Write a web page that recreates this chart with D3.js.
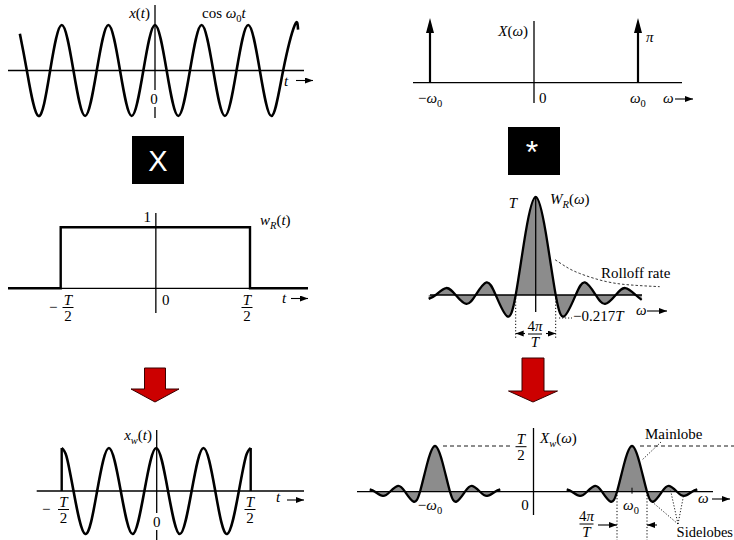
<!DOCTYPE html>
<html>
<head>
<meta charset="utf-8">
<script src="https://cdn.jsdelivr.net/npm/d3@7"></script>
<style>body{margin:0;background:#fff}</style>
</head>
<body>
<script>
// values

// x(t) = cos w0 t, quarter-period samples (t in periods of w0)
const cosT = [-2.9,-2.75,-2.5,-2.25,-2,-1.75,-1.5,-1.25,-1,-0.75,-0.5,-0.25,0,0.25,0.5,0.75,1,1.25,1.5,1.75,2,2.25,2.5,2.75,3,3.07];
const cosV = [0.81,0,-1,0,1,0,-1,0,1,0,-1,0,1,0,-1,0,1,0,-1,0,1,0,-1,0,1,0.9];

// windowed cosine x_w(t), -T/2..T/2
const winT = [-2,-1.9,-1.75,-1.5,-1.25,-1,-0.75,-0.5,-0.25,0,0.25,0.5,0.75,1,1.25,1.5,1.75,1.9,2];
const winV = [1,0.81,0,-1,0,1,0,-1,0,1,0,-1,0,1,0,-1,0,0.81,1];

// rectangular window w_R(t): edges in units of T, height 1
const rectT = [-0.5, 0.5];
const rectH = 1;

// X(w): impulses at -w0 and w0
const impW = [-1, 1];

// W_R(w): zeros and extrema, u in units of 2pi/T, value in units of T
const sincU = [-5.35,-5,-4.48,-4,-3.47,-3,-2.46,-2,-1.43,-1,-0.5,0,0.5,1,1.43,2,2.46,3,3.47,4,4.48,5,5.3];
const sincV = [-0.04,0,0.071,0,-0.091,0,0.128,0,-0.217,0,0.64,1,0.64,0,-0.217,0,0.128,0,-0.091,0,0.071,0,-0.05];

// rolloff envelope (dashed)
const rollU = [0.97,1.5,2.2,3.55,4.9,6.2];
const rollV = [0.36,0.29,0.22,0.136,0.10,0.085];

// X_w(w): lobe centres (units of w0) and lobe shape
const lobeC = [-1, 1];
const lobeU = [-4.35,-4,-3.47,-3,-2.46,-2,-1.43,-1,-0.5,0,0.5,1,1.43,2,2.46,3,3.47,4,4.35];
const lobeV = [0.05,0,-0.091,0,0.128,0,-0.217,0,0.64,1,0.64,0,-0.217,0,0.128,0,-0.091,0,0.05];

// sidelobes the labels point at (offset from +w0 lobe)
const sideU = [1.35, 2.55, 3.42];
const sideV = [-0.225, 0.06, -0.116];

const F = "'Liberation Serif','DejaVu Serif',serif";
const S = "'Liberation Sans','DejaVu Sans',sans-serif";

const svg = d3.select("body").append("svg")
  .attr("width", 734).attr("height", 540);

svg.append("defs").append("marker")
  .attr("id", "ah").attr("markerUnits", "userSpaceOnUse")
  .attr("markerWidth", 9).attr("markerHeight", 7)
  .attr("refX", 8).attr("refY", 3).attr("orient", "auto")
  .append("path").attr("d", "M0,0L8,3L0,6Z").attr("fill", "#000");

function seg(x1, y1, x2, y2, w, dash) {
  return svg.append("line").attr("x1", x1).attr("y1", y1).attr("x2", x2).attr("y2", y2)
    .attr("stroke", "#000").attr("stroke-width", w || 1.3)
    .attr("stroke-dasharray", dash || null);
}
function arr(x1, y1, x2, y2) {
  return seg(x1, y1, x2, y2, 1.1).attr("marker-end", "url(#ah)");
}

// math text; kinds: r roman, i italic, s subscript, si italic subscript
function mt(x, y, parts, anchor, size) {
  size = size || 15;
  const t = svg.append("text").attr("x", x).attr("y", y)
    .attr("text-anchor", anchor || "start")
    .style("font-family", F).style("font-size", size + "px");
  let sub = false;
  parts.forEach(([s, k]) => {
    const isSub = k[0] === "s";
    const sp = t.append("tspan").text(s)
      .style("font-style", k.endsWith("i") ? "italic" : "normal");
    if (isSub) sp.style("font-size", (size * 0.7) + "px");
    if (isSub !== sub) sp.attr("dy", isSub ? 4 : -4);
    sub = isSub;
  });
  return t;
}
function frac(cx, yb, num, den, w) {
  mt(cx, yb - 3, num, "middle");
  seg(cx - w / 2, yb, cx + w / 2, yb, 1);
  mt(cx, yb + 13, den, "middle");
}

function curve(data, x, y) {
  return d3.line().x(d => x(d[0])).y(d => y(d[1])).curve(d3.curveNatural)(data);
}
function fillArea(data, x, y) {
  return d3.area().x(d => x(d[0])).y0(y(0)).y1(d => y(d[1])).curve(d3.curveNatural)(data);
}

const T2 = [["T", "i"]], TWO = [["2", "r"]];

// ---------- panel 1: x(t) = cos w0 t ----------
{
  const x = d3.scaleLinear().domain([-3, 3]).range([15.2, 294.8]);
  const y = d3.scaleLinear().domain([-1, 1]).range([116, 25]);
  seg(8, y(0), 304, y(0));
  seg(x(0), 5, x(0), 90);
  seg(x(0), 107, x(0), 118);
  svg.append("path").attr("d", curve(d3.zip(cosT, cosV), x, y))
    .attr("fill", "none").attr("stroke", "#000").attr("stroke-width", 2.6);
  mt(150, 18, [["x", "i"], ["(", "r"], ["t", "i"], [")", "r"]], "end");
  mt(202, 18, [["cos ", "r"], ["ω", "i"], ["0", "s"], ["t", "i"]]);
  mt(x(0) - 1, 104, [["0", "r"]], "middle");
  mt(284, 86, [["t", "i"]]);
  arr(296, 80.5, 313, 80.5);
}

// ---------- panel 2: X(w) ----------
{
  const x = d3.scaleLinear().domain([-1, 1]).range([430, 638]);
  const y = d3.scaleLinear().domain([0, 1]).range([82.7, 18]);
  seg(413, y(0), 682, y(0));
  seg(x(0), 21, x(0), 103);
  impW.forEach(w => {
    seg(x(w), y(0), x(w), y(1) + 12, 2.2);
    svg.append("path")
      .attr("d", `M${x(w)},${y(1)}L${x(w) - 4},${y(1) + 15}L${x(w) + 4},${y(1) + 15}Z`)
      .attr("fill", "#000");
  });
  mt(528, 36, [["X", "i"], ["(", "r"], ["ω", "i"], [")", "r"]], "end");
  mt(646, 42, [["π", "i"]]);
  mt(418, 103, [["−", "r"], ["ω", "i"], ["0", "s"]]);
  mt(539, 103, [["0", "r"]]);
  mt(630, 103, [["ω", "i"], ["0", "s"]]);
  mt(663, 103, [["ω", "i"]]);
  arr(675, 99, 693, 99);
}

// ---------- operator boxes ----------
svg.append("rect").attr("x", 132).attr("y", 136).attr("width", 52).attr("height", 48).attr("fill", "#000");
svg.append("text").attr("x", 158).attr("y", 171).attr("text-anchor", "middle")
  .style("font-family", S).style("font-size", "29px").attr("fill", "#fff").text("X");
svg.append("rect").attr("x", 508).attr("y", 127).attr("width", 52).attr("height", 48).attr("fill", "#000");
svg.append("text").attr("x", 532).attr("y", 163).attr("text-anchor", "middle")
  .style("font-family", S).style("font-size", "32px").attr("fill", "#fff").text("*");

// ---------- panel 3: w_R(t) ----------
{
  const x = d3.scaleLinear().domain([-0.5, 0.5]).range([60.7, 250]);
  const y = d3.scaleLinear().domain([0, 1]).range([288.3, 227.3]);
  seg(x(-0.5), y(0), x(0.5), y(0));
  seg(x(0) + 0.5, 213, x(0) + 0.5, 313);
  const pts = [[x.invert(8), 0], [rectT[0], 0], [rectT[0], rectH], [rectT[1], rectH], [rectT[1], 0], [x.invert(308), 0]];
  svg.append("path").attr("d", d3.line().x(d => x(d[0])).y(d => y(d[1]))(pts))
    .attr("fill", "none").attr("stroke", "#000").attr("stroke-width", 2.4);
  mt(151, 222, [["1", "r"]], "end");
  mt(260, 225, [["w", "i"], ["R", "si"], ["(", "r"], ["t", "i"], [")", "r"]]);
  mt(49, 312, [["−", "r"]]);
  frac(68, 307.5, T2, TWO, 11);
  mt(162, 305, [["0", "r"]]);
  frac(247, 307.5, T2, TWO, 11);
  mt(282, 303, [["t", "i"]]);
  arr(291, 298.5, 308, 298.5);
}

// ---------- panel 4: W_R(w) ----------
{
  const x = d3.scaleLinear().domain([-1, 1]).range([515.7, 555.7]);
  const y = d3.scaleLinear().domain([0, 1]).range([295, 197]);
  const data = d3.zip(sincU, sincV);
  svg.append("path").attr("d", fillArea(data, x, y)).attr("fill", "#8c8c8c");
  seg(430, y(0), 642, y(0));
  seg(x(0), 198, x(0), 312);
  svg.append("path").attr("d", curve(data, x, y))
    .attr("fill", "none").attr("stroke", "#000").attr("stroke-width", 2.3);
  svg.append("path").attr("d", curve(d3.zip(rollU, rollV), x, y))
    .attr("fill", "none").attr("stroke", "#222").attr("stroke-width", 0.9).attr("stroke-dasharray", "2.5,2");
  [-1, 1].forEach(u => seg(x(u), y(0), x(u), 338, 1, "1.2,2"));
  arr(525, 333.5, x(-1), 333.5);
  arr(546, 333.5, x(1), 333.5);
  frac(535, 334, [["4", "r"], ["π", "i"]], T2, 14);
  seg(559, 318, 572, 318, 0.9, "1.2,1.8");
  mt(517, 208, [["T", "i"]], "end");
  mt(550, 204, [["W", "i"], ["R", "si"], ["(", "r"], ["ω", "i"], [")", "r"]]);
  mt(601, 278, [["Rolloff rate", "r"]]);
  mt(573, 321, [["−0.217", "r"], ["T", "i"]]);
  mt(636, 315, [["ω", "i"]]);
  arr(647, 311, 667, 311);
}

// ---------- red arrows ----------
function bigArrow(cx, sw, top, hw, hy, tip) {
  svg.append("path")
    .attr("d", `M${cx - sw / 2},${top}H${cx + sw / 2}V${hy}H${cx + hw / 2}L${cx},${tip}L${cx - hw / 2},${hy}H${cx - sw / 2}Z`)
    .attr("fill", "#cc0000").attr("stroke", "#3a0000").attr("stroke-width", 1);
}
bigArrow(155, 21, 368, 48, 389, 402);
bigArrow(533, 22, 358, 49, 391, 402);

// ---------- panel 5: x_w(t) ----------
{
  const x = d3.scaleLinear().domain([-2, 2]).range([61.7, 250.7]);
  const y = d3.scaleLinear().domain([-1, 1]).range([534, 448]);
  seg(36.7, y(0), 304, y(0));
  seg(156.7, 430, 156.7, 513);
  seg(156.7, 530, 156.7, 540);
  svg.append("path").attr("d", curve(d3.zip(winT, winV), x, y))
    .attr("fill", "none").attr("stroke", "#000").attr("stroke-width", 2.6);
  [winT[0], winT[winT.length - 1]].forEach(t => seg(x(t), y(0), x(t), y(1), 2.4));
  mt(152, 440, [["x", "i"], ["w", "si"], ["(", "r"], ["t", "i"], [")", "r"]], "end");
  mt(42, 514, [["−", "r"]]);
  frac(63.5, 509.5, T2, TWO, 11);
  mt(156.7, 526.5, [["0", "r"]], "middle");
  frac(250, 509.5, T2, TWO, 11);
  mt(276, 502, [["t", "i"]]);
  arr(287, 500, 304, 500);
}

// ---------- panel 6: X_w(w) ----------
{
  const x = d3.scaleLinear().domain([-1, 1]).range([435, 632]);
  const y = d3.scaleLinear().domain([0, 1]).range([491.7, 446]);
  const data = d3.zip(lobeU, lobeV);
  const lobeX = c => d3.scaleLinear().domain([-1, 1]).range([x(c) - 15, x(c) + 15]);
  lobeC.forEach(c => {
    svg.append("path").attr("d", fillArea(data, lobeX(c), y)).attr("fill", "#8c8c8c");
  });
  seg(357, y(0), 713, y(0));
  seg(x(0), 428, x(0), 515);
  seg(x(1), y(0) - 4, x(1), y(0) + 2, 1);
  lobeC.forEach(c => {
    svg.append("path").attr("d", curve(data, lobeX(c), y))
      .attr("fill", "none").attr("stroke", "#000").attr("stroke-width", 2.3);
  });
  seg(x(-1) + 8, y(1), 513, y(1), 0.9, "4,3");
  seg(x(1) + 8, y(1), 734, y(1), 0.9, "4,3");
  const rx = lobeX(1);
  [-1, 1].forEach(u => seg(rx(u), y(0), rx(u), 540, 1, "1.2,2"));
  arr(598, 525, rx(-1), 525);
  arr(657, 525, rx(1), 525);
  frac(586.5, 524, [["4", "r"], ["π", "i"]], T2, 14);
  // leaders
  seg(661, 442, 642, 460, 0.9, "1.2,1.8");
  sideU.forEach((u, i) => seg(678, 524, rx(u), y(sideV[i]), 0.9, "1.2,1.8"));
  frac(521, 446.7, T2, TWO, 11);
  mt(540, 443, [["X", "i"], ["w", "si"], ["(", "r"], ["ω", "i"], [")", "r"]]);
  mt(645, 439, [["Mainlobe", "r"]]);
  mt(525, 510, [["0", "r"]], "middle");
  mt(430, 510, [["−", "r"], ["ω", "i"], ["0", "s"]], "middle");
  mt(631, 510, [["ω", "i"], ["0", "s"]], "middle");
  mt(698, 503, [["ω", "i"]]);
  arr(712, 499, 730, 499);
  mt(733, 537, [["Sidelobes", "r"]], "end", 14.5);
}
</script>
</body>
</html>
